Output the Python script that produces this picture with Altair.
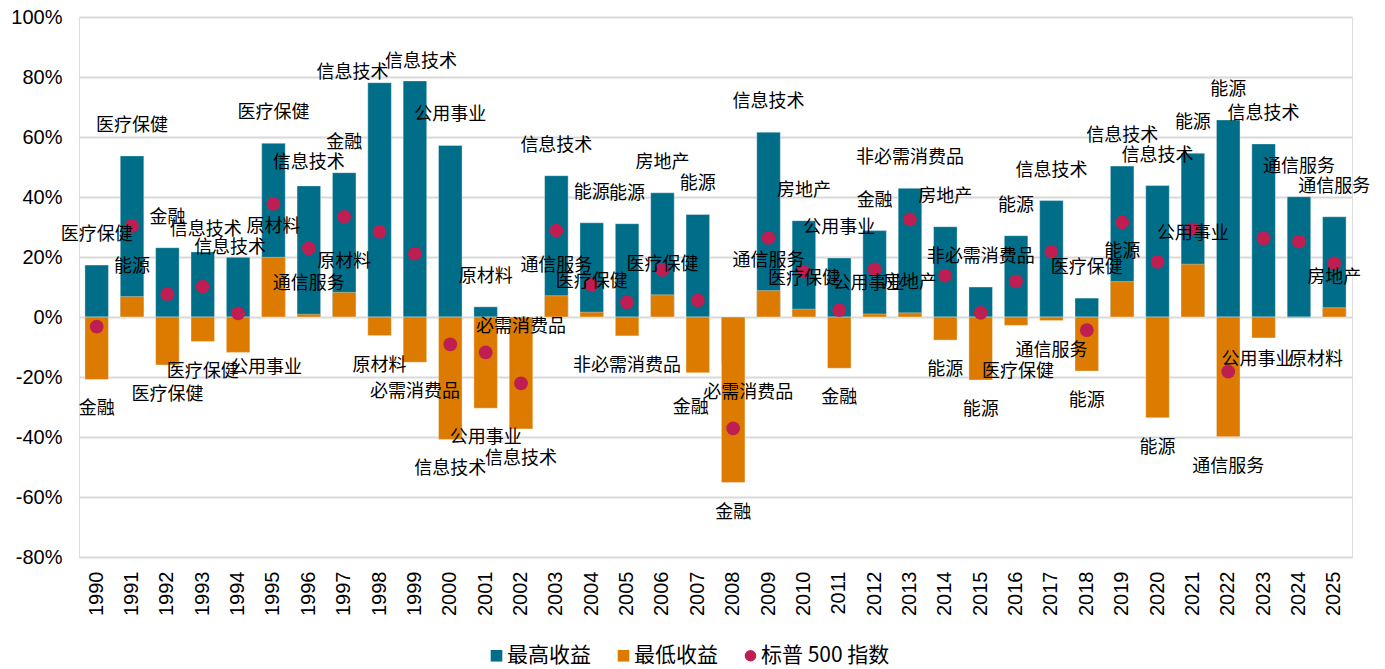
import altair as alt
import pandas as pd

years = [str(y) for y in range(1990, 2026)]

max_vals = [17.3, 53.7, 23.1, 21.7, 19.9, 57.9, 43.7, 48.1, 78.1, 78.7, 57.2, 3.4,
            -4.3, 47.1, 31.4, 31.1, 41.4, 34.2, -15.4, 61.6, 32.1, 19.7, 28.8, 42.9,
            30.1, 10.0, 27.1, 38.8, 6.3, 50.3, 43.8, 54.6, 65.7, 57.7, 40.1, 33.4]

min_vals = [-20.8, 6.8, -16.0, -8.2, -11.8, 19.9, 0.9, 8.2, -6.2, -15.1, -40.8, -30.4,
            -37.3, 7.1, 1.6, -6.3, 7.4, -18.6, -55.2, 8.8, 2.6, -17.1, 1.0, 1.4,
            -7.7, -21.0, -2.8, -1.2, -18.0, 11.8, -33.6, 17.6, -39.9, -7.0, -0.3, 3.1]

sp500 = [-3.2, 30.4, 7.6, 10.1, 1.2, 37.7, 22.9, 33.4, 28.4, 21.1, -9.1, -11.8,
         -22.1, 28.8, 10.7, 4.9, 15.7, 5.5, -37.1, 26.4, 15.1, 2.3, 15.9, 32.5,
         13.8, 1.4, 11.9, 21.8, -4.4, 31.5, 18.4, 29.2, -18.2, 26.2, 25.1, 17.9]

max_labels = ["医疗保健", "医疗保健", "金融", "信息技术", "信息技术", "医疗保健", "信息技术", "金融",
              "信息技术", "信息技术", "公用事业", "原材料", "必需消费品", "信息技术", "能源", "能源",
              "房地产", "能源", "必需消费品", "信息技术", "房地产", "公用事业", "金融", "非必需消费品",
              "房地产", "非必需消费品", "能源", "信息技术", "医疗保健", "信息技术", "信息技术", "能源",
              "能源", "信息技术", "通信服务", "通信服务"]

min_labels = ["金融", "能源", "医疗保健", "医疗保健", "公用事业", "原材料", "通信服务", "原材料",
              "原材料", "必需消费品", "信息技术", "公用事业", "信息技术", "通信服务", "医疗保健", "非必需消费品",
              "医疗保健", "金融", "金融", "通信服务", "医疗保健", "金融", "公用事业", "房地产",
              "能源", "能源", "医疗保健", "通信服务", "能源", "能源", "能源", "公用事业",
              "通信服务", "公用事业", "原材料", "房地产"]

series_names = ["最高收益", "最低收益", "标普 500 指数"]
series_colors = ["#006E88", "#DC7B00", "#BE1E52"]

# label placement nudges in pixels (dx, dy), mimicking the reference's hand-placed labels
max_nudges = {"1993": (3, 8), "1994": (-8, 21), "1996": (0, 7), "1998": (-27, 20),
              "1999": (6, 11), "2002": (0, -33), "2008": (15, 0)}
min_nudges = {"1994": (28, -14), "2007": (-7, 5), "2012": (-6, 0), "2016": (2, 17),
              "2023": (-6, -8), "2024": (17, 12)}

df = pd.DataFrame({
    "year": years,
    "max": max_vals,
    "min": min_vals,
    "sp": sp500,
    "max_label": max_labels,
    "min_label": min_labels,
})

FONT_LAT = "Liberation Sans, Arial, Noto Sans CJK SC"
FONT_CJK = "Noto Sans CJK SC, Liberation Sans"

x_enc = alt.X(
    "year:N", sort=years,
    scale=alt.Scale(paddingInner=1 / 3, paddingOuter=1 / 6),
    axis=alt.Axis(title=None, labelAngle=270, labelFontSize=20, labelFont=FONT_LAT,
                  labelColor="#000000", ticks=False, tickSize=0, domain=False,
                  labelPadding=14, grid=False),
)

y_scale = alt.Scale(domain=[-80, 100], nice=False)
y_axis = alt.Axis(title=None, values=list(range(-80, 101, 20)), labelExpr="datum.value + '%'",
                  labelFontSize=20, labelFont=FONT_LAT, labelColor="#000000",
                  ticks=False, tickSize=0, domain=False, labelPadding=17,
                  grid=True, gridColor="#D9D9D9", gridWidth=1.8)

color_scale = alt.Scale(domain=series_names, range=series_colors)
shape_scale = alt.Scale(domain=series_names, range=["square", "square", "circle"])

legend = alt.Legend(title=None, orient="none", direction="horizontal",
                    legendX=407, legendY=628, labelFontSize=21, labelFont=FONT_CJK,
                    labelColor="#000000", symbolSize=135, symbolStrokeWidth=0,
                    labelOffset=0, columnPadding=22, labelLimit=400)

base = alt.Chart(df).encode(x=x_enc)

bars_max = base.transform_calculate(series="'最高收益'").mark_bar(
    stroke="#ffffff", strokeWidth=0.6, strokeOpacity=0.6
).encode(
    y=alt.Y("max:Q", scale=y_scale, axis=y_axis),
    y2=alt.datum(0),
    color=alt.Color("series:N", scale=color_scale, legend=legend),
)

bars_min = base.transform_calculate(series="'最低收益'").mark_bar(
    stroke="#ffffff", strokeWidth=0.6, strokeOpacity=0.6
).encode(
    y=alt.Y("min:Q", scale=y_scale),
    y2=alt.datum(0),
    color=alt.Color("series:N", scale=color_scale, legend=legend),
)

points = base.transform_calculate(series="'标普 500 指数'").mark_point(
    filled=True, size=190, opacity=1
).encode(
    y=alt.Y("sp:Q", scale=y_scale),
    color=alt.Color("series:N", scale=color_scale, legend=legend),
    shape=alt.Shape("series:N", scale=shape_scale, legend=legend),
)


def text_layers(field, label_field, nudges):
    calc = f"datum.{field} >= 0 ? datum.{field} + 10 : datum.{field} - 10"
    style = dict(font=FONT_CJK, fontSize=18, color="#000000", baseline="middle", align="center")
    excluded = "[" + ",".join(f"'{y}'" for y in nudges) + "]"
    layers = [
        base.transform_filter(f"indexof({excluded}, datum.year) < 0")
        .transform_calculate(ly=calc)
        .mark_text(**style)
        .encode(y=alt.Y("ly:Q", scale=y_scale), text=f"{label_field}:N")
    ]
    for yr, (dx, dy) in nudges.items():
        layers.append(
            base.transform_filter(f"datum.year == '{yr}'")
            .transform_calculate(ly=calc)
            .mark_text(dx=dx, dy=dy, **style)
            .encode(y=alt.Y("ly:Q", scale=y_scale), text=f"{label_field}:N")
        )
    return layers


labels = text_layers("max", "max_label", max_nudges) + text_layers("min", "min_label", min_nudges)

chart = alt.layer(bars_max, bars_min, points, *labels).properties(
    width=1273, height=540,
    autosize=alt.AutoSizeParams(type="none"),
    padding={"left": 71, "top": 9, "right": 25, "bottom": 112},
).configure_view(stroke=None).configure(background="#ffffff")

chart.save("out.html", embed_options={"renderer": "svg", "actions": False})
